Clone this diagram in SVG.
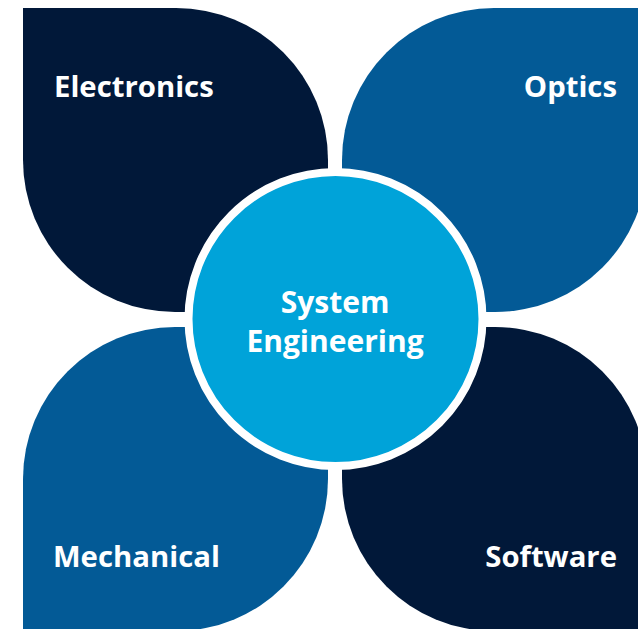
<svg xmlns="http://www.w3.org/2000/svg" width="638" height="629" viewBox="0 0 638 629">
<style>
.navy{fill:#011839}
.mid{fill:#035A96}
.lbl{font-family:"Open Sans","Noto Sans","Liberation Sans",sans-serif;font-weight:700;font-size:29.3px;fill:#ffffff}
.ctr{font-family:"Open Sans","Noto Sans","Liberation Sans",sans-serif;font-weight:700;font-size:30px;fill:#ffffff;text-anchor:middle}
</style>
<rect width="638" height="629" fill="#ffffff"/>
<g id="electronics">
<path class="navy" d="M23,8 H176 A152,152 0 0 1 328,160 V312 H175 A152,152 0 0 1 23,160 Z"/>
<text class="lbl" x="54" y="97">Electronics</text>
</g>
<g id="optics">
<path class="mid" d="M342,312 V160 A152,152 0 0 1 494,8 H647 V160 A152,152 0 0 1 495,312 Z"/>
<text class="lbl" x="617" y="97" text-anchor="end">Optics</text>
</g>
<g id="mechanical">
<path class="mid" d="M23,631 V479 A152,152 0 0 1 175,327 H328 V479 A152,152 0 0 1 176,631 Z"/>
<text class="lbl" x="53" y="567">Mechanical</text>
</g>
<g id="software">
<path class="navy" d="M342,327 H495 A152,152 0 0 1 647,479 V631 H494 A152,152 0 0 1 342,479 Z"/>
<text class="lbl" x="617" y="567" text-anchor="end">Software</text>
</g>
<g id="system-engineering">
<circle cx="335.5" cy="319" r="147" fill="#00A3D9" stroke="#ffffff" stroke-width="8"/>
<text class="ctr" x="335" y="313">System</text>
<text class="ctr" x="335" y="352">Engineering</text>
</g>
<g id="connectors"></g>
</svg>
